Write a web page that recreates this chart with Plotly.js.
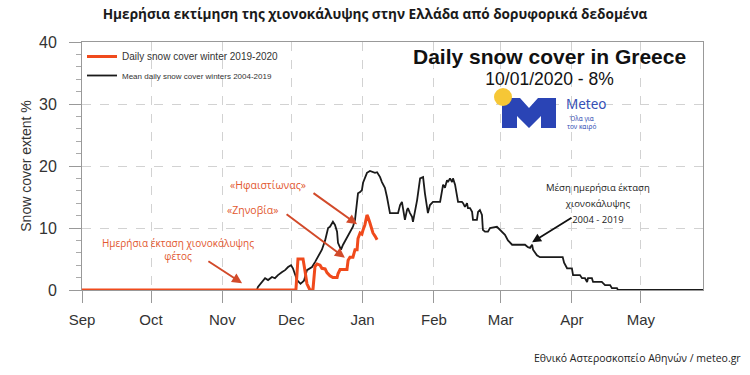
<!DOCTYPE html>
<html>
<head>
<meta charset="utf-8">
<script src="https://cdn.plot.ly/plotly-3.0.1.min.js"></script>
<style>html,body{margin:0;padding:0;background:#fff;}#chart{width:750px;height:375px;}</style>
</head>
<body>
<div id="chart"></div>
<script>
// ---- Data (x = days since 1 Sep 2019) ----
const monthDays = [0, 30, 61, 91, 122, 153, 182, 213, 243];
const monthLabels = ['Sep', 'Oct', 'Nov', 'Dec', 'Jan', 'Feb', 'Mar', 'Apr', 'May'];

const meanDays = [0, 76, 76.5, 78.3, 79.6, 80.9, 82.6, 83.9, 85.2, 87,
  88.3, 89.6, 90.9, 91.7, 92.6, 93.5, 95, 96.5, 97.8, 100,
  101.3, 102.6, 104.3, 105.7, 107, 107.8, 109.1, 110, 110.9, 111.3,
  112.6, 113.5, 115.2, 116.5, 117.8, 118.7, 119.6, 120, 120.9, 121.7,
  122.2, 123.9, 125.2, 126.5, 127.4, 128.3, 129.6, 130.4, 131.7, 132.6,
  133, 133.9, 137.4, 138.3, 139.1, 139.6, 140.4, 141.3, 141.7, 142.6,
  143.5, 143.9, 144.8, 145.7, 147, 148.3, 149.1, 150, 150.4, 151.3,
  152.6, 155.7, 156.5, 157, 157.8, 158.7, 159.1, 160, 160.9, 161.3,
  162.2, 163, 163.5, 165.2, 165.7, 166.5, 167.4, 167.8, 168.7, 169.6,
  170, 171.7, 172.2, 173, 173.9, 174.3, 175.2, 176.5, 177.4, 180.4,
  180.9, 182.6, 183.9, 185.2, 187, 192.6, 193.9, 194.8, 195.7, 196.1,
  197.8, 199.1, 209, 209.6, 210.9, 213, 213.5, 216.5, 217.4, 218.7,
  219.6, 220, 221.7, 222.2, 226, 227.4, 229.6, 230.4, 232.6, 233,
  270];
const meanCover = [0, 0, 0.5, 1.3, 1.9, 1.6, 2.1, 1.9, 2.4, 2.9,
  3.2, 3.7, 4.0, 3.5, 2.4, 1.6, 1.0, 1.5, 3.2, 3.7,
  4.5, 5.3, 6.5, 8.0, 10.0, 10.2, 11.0, 10.5, 9.4, 7.6,
  6.5, 7.3, 8.5, 9.2, 10.2, 11.3, 14.5, 15.6, 15.8, 16.1,
  17.3, 18.9, 19.2, 19.0, 18.9, 19.0, 18.2, 17.4, 16.5, 15.0,
  14.0, 12.4, 12.4, 13.7, 14.2, 12.9, 11.3, 12.9, 13.2, 12.4,
  11.8, 11.0, 12.9, 14.5, 18.0, 18.2, 15.6, 13.4, 12.4, 13.7,
  14.2, 14.2, 15.6, 17.0, 16.5, 17.7, 17.4, 18.0, 17.4, 18.0,
  17.0, 15.6, 14.2, 14.2, 14.0, 13.4, 14.0, 13.2, 13.2, 12.6,
  11.3, 11.3, 12.6, 12.9, 12.1, 9.7, 9.4, 9.4, 10.0, 10.2,
  10.0, 9.4, 8.9, 8.0, 7.3, 7.3, 6.9, 6.8, 7.3, 6.5,
  5.6, 5.3, 5.3, 4.4, 3.5, 3.5, 2.4, 2.4, 1.9, 1.9,
  1.3, 1.9, 1.9, 1.3, 1.3, 0.8, 0.8, 0.3, 0.3, 0,
  0];

const winterDays = [0, 93, 93.9, 96.1, 97, 97.8, 99.1, 100.4, 101.3, 102.2,
  103.5, 104.3, 105.7, 106.5, 107.8, 109.1, 110.9, 111.3, 112.2, 115.2,
  115.7, 116.5, 117.8, 118.7, 119.6, 120, 120.9, 121.7, 122.2, 123,
  123.9, 124.3, 125.2, 126.1, 126.5, 127.4, 128.3];
const winterCover = [0, 0, 5, 5, 3, 1, 0, 0, 3.8, 4.2,
  4.0, 3.5, 3.4, 2.8, 2.3, 2.0, 2.0, 2.6, 3.3, 3.3,
  4.8, 5.3, 5.3, 6.5, 6.5, 8.3, 9.2, 9.0, 9.7, 10.5,
  12.1, 11.8, 10.8, 9.7, 9.2, 8.7, 8.1];

// ---- helpers for decorative positions (pixel -> paper) ----
const L = 82, R = 703, T = 42, B = 290;
const PX = p => (p - L) / (R - L);
const PY = p => (B - p) / (B - T);

const RED = '#f04a1c';
const RED_TXT = '#e2582f';
const CAL = '"Open Sans", "Noto Sans", sans-serif';
const HEL = '"Liberation Sans", Arial, sans-serif';

const traces = [
  {
    x: meanDays, y: meanCover, type: 'scatter', mode: 'lines',
    name: '<span style="font-size:8px">Mean daily snow cover winters 2004-2019</span>',
    line: { color: '#1a1a1a', width: 1.8 }, hoverinfo: 'skip'
  },
  {
    x: winterDays, y: winterCover, type: 'scatter', mode: 'lines',
    name: 'Daily snow cover winter 2019-2020',
    line: { color: RED, width: 3 }, hoverinfo: 'skip'
  }
];

const mPts = [[502,98],[520,98],[529,108],[538,98],[556,98],[556,128],[541,128],[541,116],[529,128],[517,116],[517,128],[502,128]];
const mPath = 'M' + mPts.map(p => PX(p[0]) + ',' + PY(p[1])).join(' L') + ' Z';

function note(x, y, text, font, extra) {
  return Object.assign({ xref: 'paper', yref: 'paper', x: PX(x), y: PY(y), text: text, showarrow: false,
    xanchor: 'center', yanchor: 'middle', font: font }, extra || {});
}
function dataNote(x, y, text, font) {
  return { xref: 'x', yref: 'y', x: x, y: y, text: text, showarrow: false, xanchor: 'center', yanchor: 'middle', font: font };
}
function arrow(x, y, ax, ay, color, width) {
  return { xref: 'x', yref: 'y', axref: 'x', ayref: 'y', x: x, y: y, ax: ax, ay: ay, text: '', showarrow: true,
    arrowhead: 2, arrowsize: 1, arrowwidth: width, arrowcolor: color };
}

const annotations = [
  note(549, 66.5, '<span style="font-size:21px"><b>Daily snow cover in Greece</b></span><br><span style="font-size:17.5px">10/01/2020 - 8%</span>',
    { family: HEL, size: 16, color: '#111' }),
  note(564, 104, 'Meteo', { family: 'Noto Sans, sans-serif', size: 13.5, color: '#3550b5' }, { xanchor: 'left' }),
  note(565, 122.5, 'Όλα για<br>τον καιρό', { family: 'Noto Sans, sans-serif', size: 6.5, color: '#3550b5' }, { xanchor: 'left' }),
  dataNote(80.9, 16.9, '«Ηφαιστίωνας»', { family: CAL, size: 10.5, color: RED_TXT }),
  dataNote(74.3, 12.9, '«Ζηνοβία»', { family: CAL, size: 10.5, color: RED_TXT }),
  dataNote(41.7, 6.5, 'Ημερήσια έκταση χιονοκάλυψης<br>φέτος', { family: CAL, size: 10, color: RED_TXT }),
  dataNote(224.3, 14.0, '<span style="font-size:9.5px">Μέση ημερήσια έκταση<br>χιονοκάλυψης<br>2004 - 2019</span>', { family: CAL, size: 12.3, color: '#222' }),
  arrow(119.6, 10.6, 100, 15.8, '#d24a2a', 2),
  arrow(114.3, 5.2, 88.3, 12.4, '#d24a2a', 2),
  arrow(69.6, 1.1, 54.3, 4.8, '#d24a2a', 2),
  arrow(195.7, 7.7, 213.5, 11.8, '#111', 1.8),
  note(743, 358, 'Εθνικό Αστεροσκοπείο Αθηνών / meteo.gr', { family: CAL, size: 10.5, color: '#222' }, { xanchor: 'right' })
];

const shapes = [
  { type: 'path', xref: 'paper', yref: 'paper', path: mPath, fillcolor: '#2a44b5', line: { width: 0 } },
  { type: 'circle', xref: 'paper', yref: 'paper', x0: PX(494), x1: PX(512), y0: PY(106), y1: PY(88), fillcolor: '#f6c736', line: { width: 0 } }
];

const layout = {
  width: 750, height: 375,
  margin: { l: L, r: 750 - R, t: T, b: 375 - B },
  paper_bgcolor: '#ffffff', plot_bgcolor: '#ffffff',
  font: { family: HEL, color: '#333' },
  title: {
    text: '<b>Ημερήσια εκτίμηση της χιονοκάλυψης στην Ελλάδα από δορυφορικά δεδομένα</b>',
    font: { family: CAL, size: 13.6, color: '#1a1a1a' },
    x: 0.5, xref: 'container', xanchor: 'center', y: 1 - 14 / 375, yref: 'container', yanchor: 'middle'
  },
  showlegend: true,
  legend: {
    x: 0, y: 1, xanchor: 'left', yanchor: 'top', bgcolor: 'rgba(0,0,0,0)',
    font: { size: 10, color: '#333' }, traceorder: 'reversed', itemwidth: 30
  },
  xaxis: {
    range: [0, 270], tickmode: 'array', tickvals: monthDays, ticktext: monthLabels,
    ticks: 'outside', ticklen: 12, tickcolor: '#999', tickwidth: 1,
    showline: true, linecolor: '#999', linewidth: 1, mirror: true,
    showgrid: true, gridcolor: '#d2d2d2', griddash: 'dash', zeroline: false,
    tickfont: { size: 15, color: '#333' }, ticklabelstandoff: 4, fixedrange: true
  },
  yaxis: {
    range: [0, 40], tickmode: 'linear', tick0: 0, dtick: 10,
    ticks: 'outside', ticklen: 12, tickcolor: '#999', tickwidth: 1,
    minor: { dtick: 2, tick0: 0, ticks: 'outside', ticklen: 5, tickcolor: '#aaa', showgrid: false },
    showline: true, linecolor: '#999', linewidth: 1, mirror: true,
    showgrid: true, gridcolor: '#d2d2d2', griddash: 'dash', zeroline: false,
    tickfont: { size: 16, color: '#333' }, ticklabelstandoff: 9,
    title: { text: 'Snow cover extent %', font: { size: 14, color: '#333' }, standoff: 4 },
    fixedrange: true
  },
  annotations: annotations,
  shapes: shapes
};

Plotly.newPlot('chart', traces, layout, { displayModeBar: false, staticPlot: true });
</script>
</body>
</html>
